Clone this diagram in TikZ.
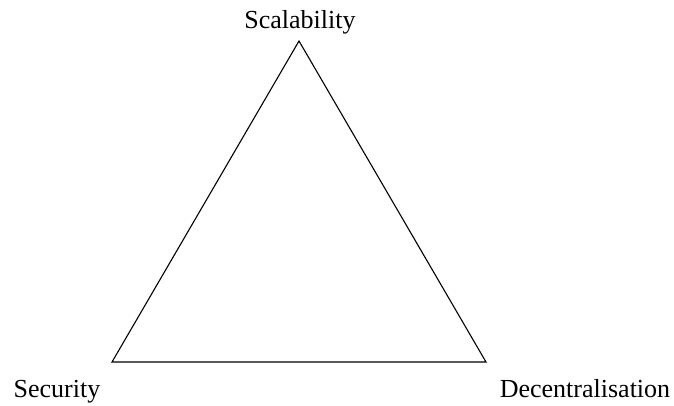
\documentclass[tikz,border=0pt]{standalone}
\usepackage{fontspec}
\setmainfont{Liberation Serif}
\usetikzlibrary{positioning}

\begin{document}
\begin{tikzpicture}[
    x=1pt, y=-1pt,
    corner/.style={inner sep=0pt, outer sep=0pt},
    label text/.style={anchor=base, inner sep=0pt, font=\fontsize{26}{31}\selectfont},
    edge/.style={line width=1.1pt, line join=miter},
]
\useasboundingbox (0,0) rectangle (674,406);
% corners of the triangle
\coordinate (top) at (299,41);
\coordinate (left) at (112,362);
\coordinate (right) at (486,362);
% labels
\node[label text] (scal) at (300,29) {Scalability};
\node[label text] (sec) at (57,397) {Security};
\node[label text] (dec) at (585,397) {Decentralisation};
\draw[edge] (top) -- (left) -- (right) -- cycle;
\end{tikzpicture}
\end{document}
